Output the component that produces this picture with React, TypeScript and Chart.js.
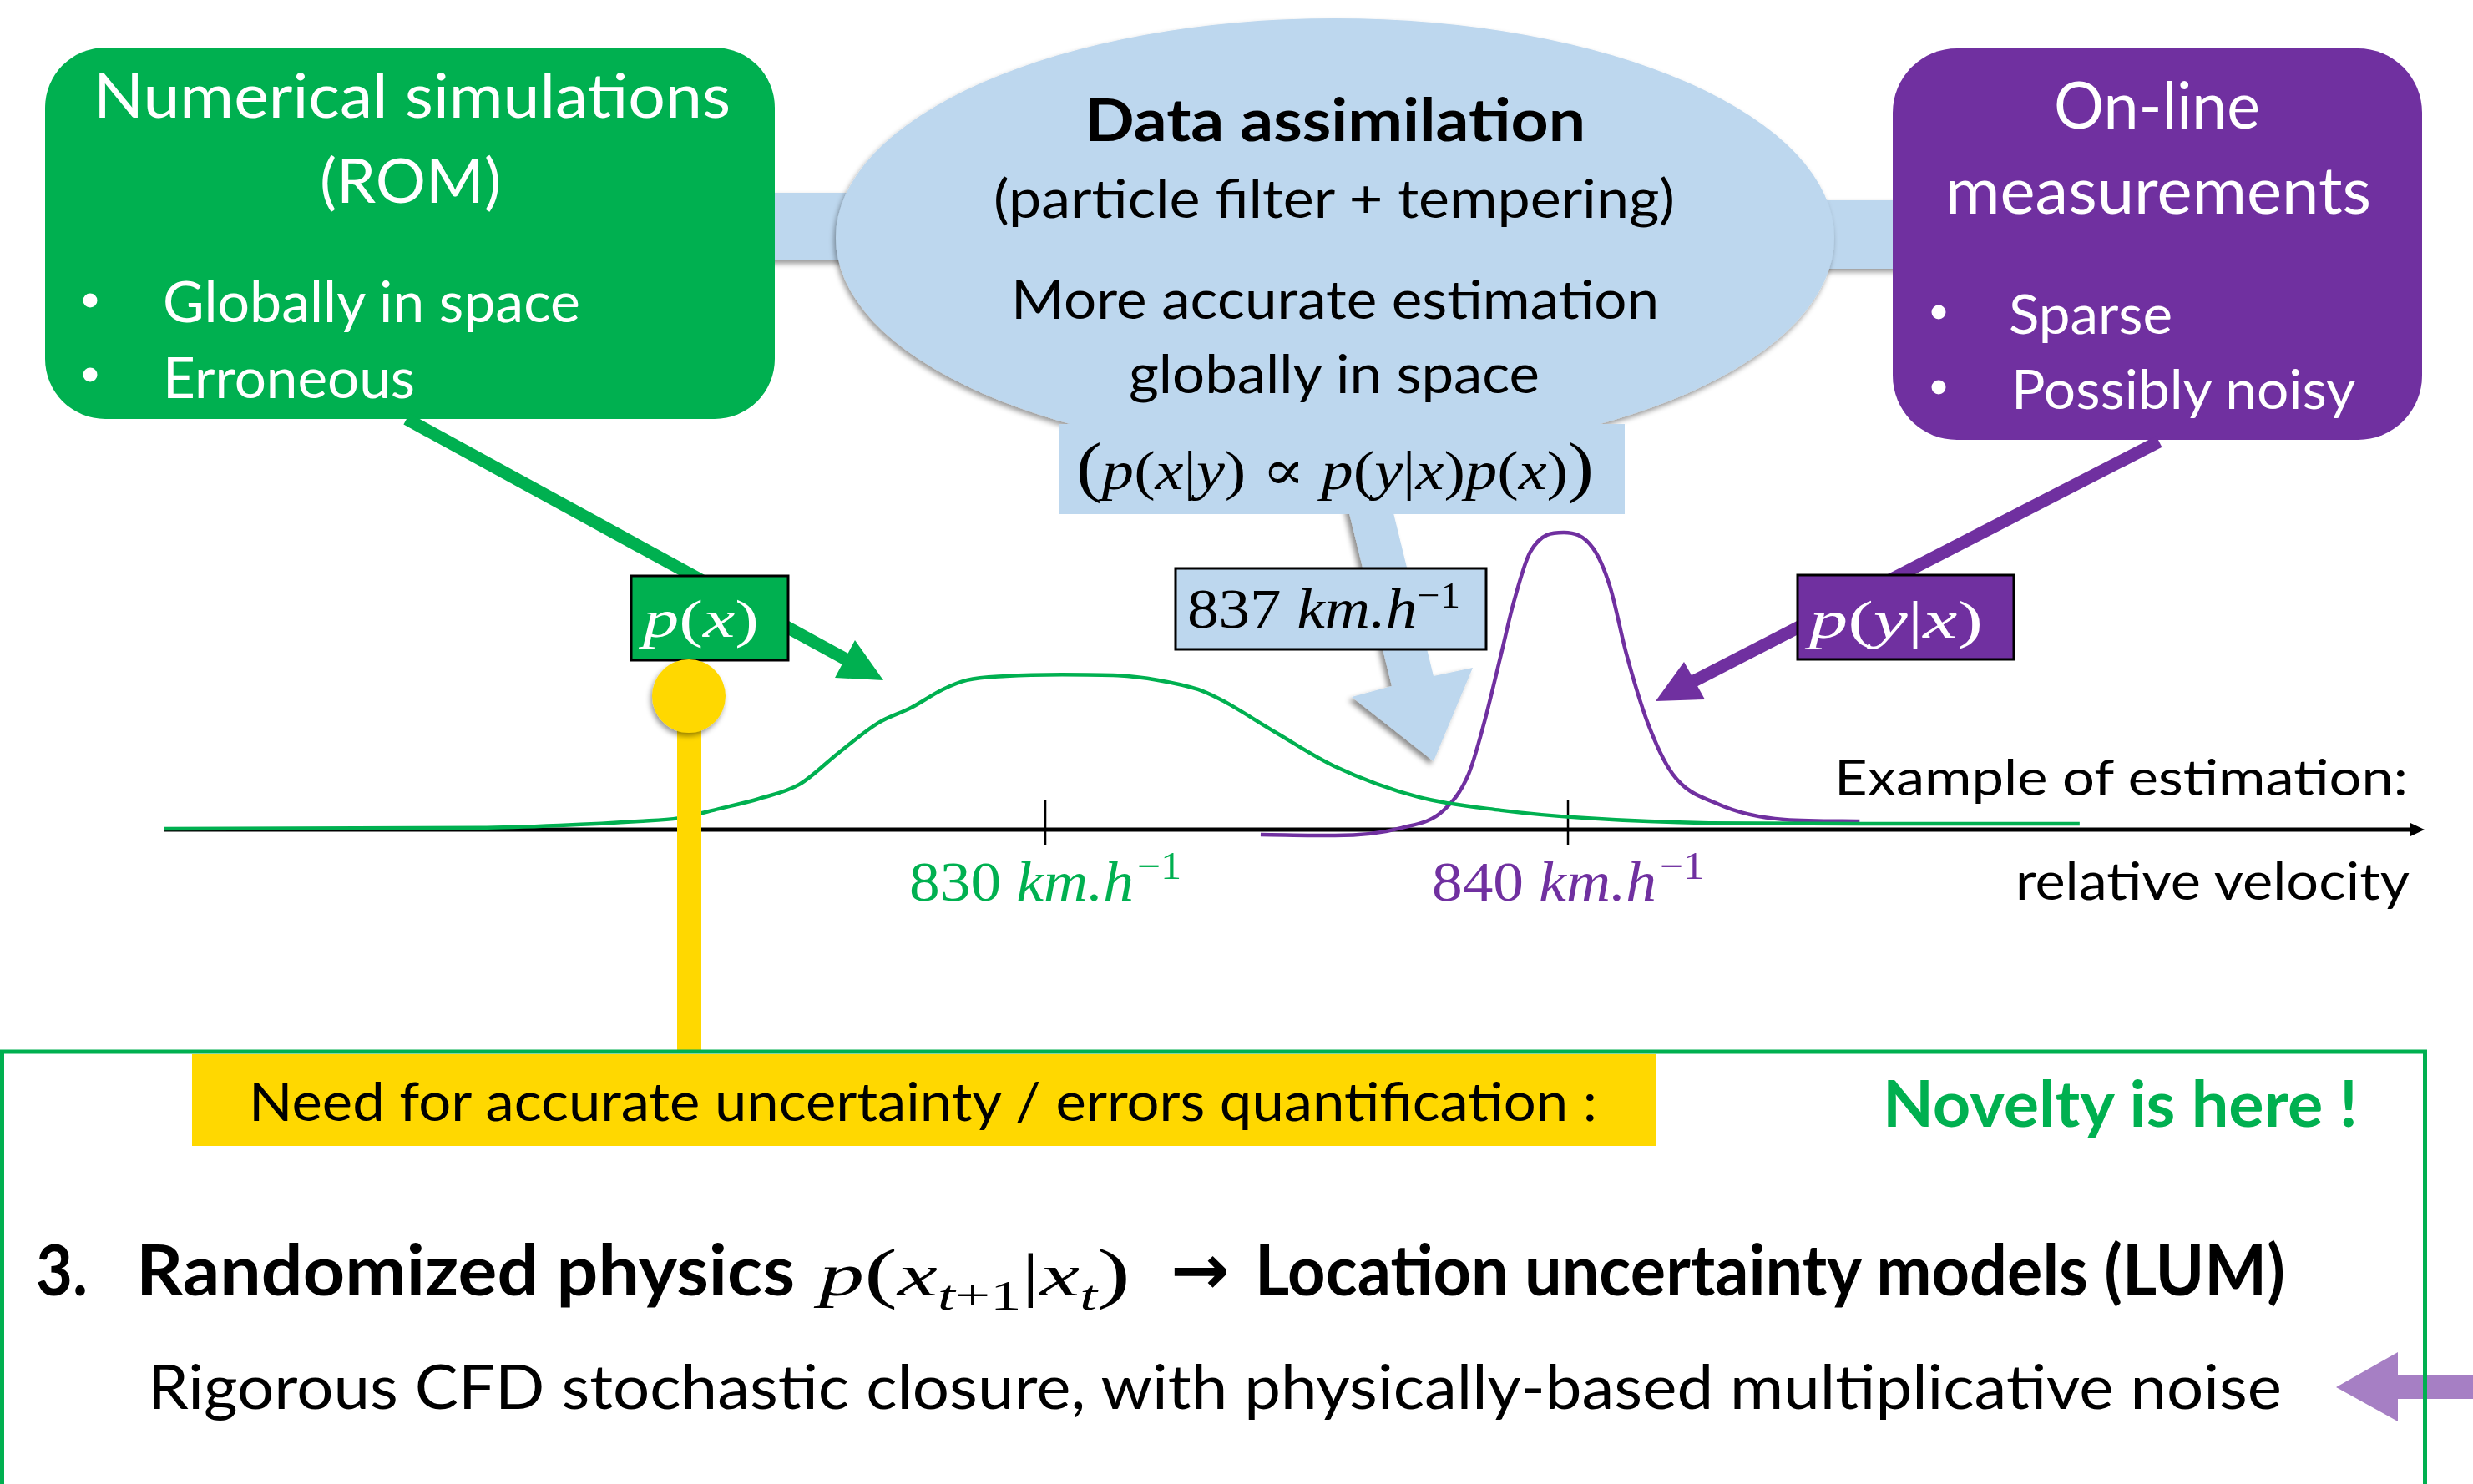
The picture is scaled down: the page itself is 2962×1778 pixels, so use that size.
import React, { useEffect, useRef } from "react";
import { Chart, registerables } from "chart.js";
Chart.register(...registerables);

const W = 2962;
const H = 1778;
const SANS = "Lato, 'Open Sans', sans-serif";
const SERIF = "'Liberation Serif', 'DejaVu Serif', serif";

// ---- chart data (velocity in km/h, density in arbitrary units) ----
const greenVelocity = [813.13, 819.17, 820.7, 822.22, 822.99, 823.75, 824.52, 825.29, 826.04, 826.81, 827.43, 828.04, 828.5, 829.25, 830.32, 831.39, 832.16, 832.92, 833.32, 833.53, 834.42, 835.54, 837.14, 838.72, 840.32, 842.7, 845.58, 849.79];
const greenDensity = [0.3, 0.6, 1.4, 2.8, 3.9, 7.0, 10.4, 15.2, 25.8, 36.0, 41.0, 47.2, 50.3, 51.7, 52.2, 51.9, 50.3, 47.2, 44.1, 42.1, 32.6, 21.3, 11.0, 6.5, 3.9, 2.2, 2.0, 2.0];

const purpleVelocity = [834.12, 835.54, 836.82, 837.62, 838.1, 838.4, 838.72, 838.96, 839.28, 839.92, 840.48, 840.8, 841.12, 841.52, 842.0, 842.86, 844.14, 845.58];
const purpleDensity = [-1.7, -2.0, 0.6, 6.5, 18.8, 36.2, 59.0, 76.4, 93.5, 100, 94.7, 82.0, 59.0, 36.2, 18.8, 8.7, 3.4, 2.8];

const tickValues = [830, 840];
const tickUnit = "km.h";
const tickExponent = "\u22121";
const tickColors = ["#00B050", "#7030A0"];

const GREEN = "#00B050";
const PURPLE = "#7030A0";
const LIGHTBLUE = "#BDD7EE";
const YELLOW = "#FFD800";

const axisPlugin = {
  id: "velocityAxis",
  beforeDatasetsDraw(chart: any) {
    const { ctx, chartArea, scales } = chart;
    const xs = scales.x;
    const ys = scales.y;
    const y0 = ys.getPixelForValue(0);
    ctx.save();
    ctx.strokeStyle = "#000";
    ctx.lineWidth = 5;
    ctx.beginPath();
    ctx.moveTo(chartArea.left, y0);
    ctx.lineTo(chartArea.right - 12, y0);
    ctx.stroke();
    ctx.fillStyle = "#000";
    ctx.beginPath();
    ctx.moveTo(chartArea.right, y0);
    ctx.lineTo(chartArea.right - 17, y0 - 8);
    ctx.lineTo(chartArea.right - 17, y0 + 8);
    ctx.closePath();
    ctx.fill();
    ctx.lineWidth = 2.5;
    tickValues.forEach((v) => {
      const px = xs.getPixelForValue(v);
      ctx.beginPath();
      ctx.moveTo(px, y0 - 36);
      ctx.lineTo(px, y0 + 18);
      ctx.stroke();
    });
    tickValues.forEach((v, i) => {
      const px = xs.getPixelForValue(v);
      const num = String(v) + " ";
      ctx.font = `68px ${SERIF}`;
      const w1 = ctx.measureText(num).width;
      ctx.font = `italic 68px ${SERIF}`;
      const w2 = ctx.measureText(tickUnit).width;
      ctx.font = `46px ${SERIF}`;
      const w3 = ctx.measureText(tickExponent).width;
      const total = w1 + w2 + 4 + w3;
      const target = 326;
      ctx.save();
      ctx.translate(px - target / 2, y0 + 85);
      ctx.scale(target / total, 1);
      ctx.fillStyle = tickColors[i];
      ctx.textBaseline = "alphabetic";
      ctx.font = `68px ${SERIF}`;
      ctx.fillText(num, 0, 0);
      ctx.font = `italic 68px ${SERIF}`;
      ctx.fillText(tickUnit, w1, 0);
      ctx.font = `46px ${SERIF}`;
      ctx.fillText(tickExponent, w1 + w2 + 4, -26);
      ctx.restore();
    });
    ctx.restore();
  },
};

type TP = {
  x: number;
  y: number;
  w?: number;
  size: number;
  bold?: boolean;
  italic?: boolean;
  fill?: string;
  family?: string;
  children: React.ReactNode;
};

function T({ x, y, w, size, bold, italic, fill = "#000", family = SANS, children }: TP) {
  return (
    <text
      x={x}
      y={y}
      fontSize={size}
      fontFamily={family}
      fontWeight={bold ? 700 : 400}
      fontStyle={italic ? "italic" : "normal"}
      fill={fill}
      textLength={w}
      lengthAdjust={w ? "spacingAndGlyphs" : undefined}
    >
      {children}
    </text>
  );
}

const I = ({ children }: { children: React.ReactNode }) => <tspan fontStyle="italic">{children}</tspan>;

export default function App() {
  const canvasRef = useRef<HTMLCanvasElement | null>(null);

  useEffect(() => {
    if (!canvasRef.current) return;
    const chart = new Chart(canvasRef.current, {
      type: "line",
      data: {
        datasets: [
          {
            data: greenVelocity.map((v, i) => ({ x: v, y: greenDensity[i] })),
            borderColor: GREEN,
            borderWidth: 4.5,
            pointRadius: 0,
            cubicInterpolationMode: "monotone",
            fill: false,
          },
          {
            data: purpleVelocity.map((v, i) => ({ x: v, y: purpleDensity[i] })),
            borderColor: PURPLE,
            borderWidth: 4.5,
            pointRadius: 0,
            cubicInterpolationMode: "monotone",
            fill: false,
          },
        ],
      },
      options: {
        animation: false,
        responsive: false,
        devicePixelRatio: 1,
        events: [],
        layout: { padding: { left: 196, right: 58, top: 602.4, bottom: 748.4 } },
        scales: {
          x: { type: "linear", min: 813.13, max: 856.39, display: false },
          y: { type: "linear", min: -10, max: 110, display: false },
        },
        plugins: { legend: { display: false }, tooltip: { enabled: false } },
      },
      plugins: [axisPlugin],
    } as any);
    return () => chart.destroy();
  }, []);

  return (
    <div style={{ position: "absolute", left: 0, top: 0, width: W, height: H, background: "#fff", overflow: "hidden" }}>
      <canvas ref={canvasRef} width={W} height={H} style={{ position: "absolute", left: 0, top: 0, display: "block" }} />
      <svg width={W} height={H} style={{ position: "absolute", left: 0, top: 0 }}>
        <defs>
          <filter id="sh" x="-10%" y="-10%" width="120%" height="130%">
            <feDropShadow dx="-2" dy="4" stdDeviation="3" floodColor="#000" floodOpacity="0.4" />
          </filter>
          <filter id="sh2" x="-20%" y="-20%" width="140%" height="140%">
            <feDropShadow dx="-4" dy="4" stdDeviation="3" floodColor="#000" floodOpacity="0.45" />
          </filter>
        </defs>

        {/* connector bars */}
        <rect x={900} y={231} width={220} height={81} fill={LIGHTBLUE} filter="url(#sh)" />
        <rect x={2080} y={240} width={220} height={82} fill={LIGHTBLUE} filter="url(#sh)" />

        {/* ellipse */}
        <ellipse cx={1599} cy={285} rx={598} ry={263} fill={LIGHTBLUE} filter="url(#sh)" />

        {/* blue block arrow */}
        <polygon
          points="1605,570 1658,570 1717,810 1764,800 1717,912 1619,835 1667,822"
          fill={LIGHTBLUE}
          filter="url(#sh2)"
        />

        {/* formula box */}
        <rect x={1268} y={508} width={678} height={108} fill={LIGHTBLUE} />
        <T x={1289} y={586} w={620} size={66} family={SERIF}>
          <tspan fontSize={80}>(</tspan>
          <I>p</I>(<I>x</I>|<I>y</I>) {"\u221D"} <I>p</I>(<I>y</I>|<I>x</I>)<I>p</I>(<I>x</I>)<tspan fontSize={80}>)</tspan>
        </T>

        {/* 837 box */}
        <rect x={1408} y={681} width={372} height={97} fill={LIGHTBLUE} stroke="#000" strokeWidth={3} />
        <T x={1422} y={752} w={327} size={68} family={SERIF}>
          837 <I>km.h</I>
          <tspan fontSize={44} dy={-24}>{"\u22121"}</tspan>
        </T>

        {/* ellipse texts */}
        <T x={1299} y={169} w={600} size={71} bold>Data assimilation</T>
        <T x={1190} y={261} w={816} size={63}>(particle filter + tempering)</T>
        <T x={1211} y={382} w={776} size={63}>More accurate estimation</T>
        <T x={1352} y={471} w={492} size={63}>globally in space</T>

        {/* green box */}
        <rect x={54} y={57} width={874} height={445} rx={72} ry={72} fill={GREEN} />
        <T x={112} y={141} w={763} size={74} fill="#fff">Numerical simulations</T>
        <T x={383} y={243} w={217} size={74} fill="#fff">(ROM)</T>
        <circle cx={108} cy={360} r={8.5} fill="#fff" />
        <circle cx={108} cy={449} r={8.5} fill="#fff" />
        <T x={195} y={386} w={500} size={67} fill="#fff">Globally in space</T>
        <T x={195} y={477} w={302} size={67} fill="#fff">Erroneous</T>

        {/* purple box */}
        <rect x={2267} y={58} width={634} height={469} rx={77} ry={77} fill={PURPLE} />
        <T x={2460} y={154} w={247} size={78} fill="#fff">On-line</T>
        <T x={2330} y={256} w={510} size={78} fill="#fff">measurements</T>
        <circle cx={2322} cy={374} r={8.5} fill="#fff" />
        <circle cx={2322} cy={464} r={8.5} fill="#fff" />
        <T x={2406} y={400} w={196} size={66} fill="#fff">Sparse</T>
        <T x={2409} y={490} w={412} size={66} fill="#fff">Possibly noisy</T>

        {/* green arrow */}
        <line x1={487} y1={502} x2={1015} y2={791} stroke={GREEN} strokeWidth={15} />
        <polygon points="1058,815 1024,767 1000,812" fill={GREEN} />

        {/* purple arrow */}
        <line x1={2586} y1={529} x2={2027} y2={817} stroke={PURPLE} strokeWidth={15} />
        <polygon points="1983,840 2042,838 2017,793" fill={PURPLE} />

        {/* p(x) and p(y|x) boxes */}
        <rect x={756} y={690} width={188} height={101} fill={GREEN} stroke="#000" strokeWidth={3} />
        <T x={770} y={763} w={139} size={64} family={SERIF} fill="#fff">
          <I>p</I>(<I>x</I>)
        </T>
        <rect x={2153} y={689} width={259} height={101} fill={PURPLE} stroke="#000" strokeWidth={3} />
        <T x={2167} y={764} w={208} size={64} family={SERIF} fill="#fff">
          <I>p</I>(<I>y</I>|<I>x</I>)
        </T>

        {/* axis texts */}
        <T x={2197} y={953} w={687} size={60}>Example of estimation:</T>
        <T x={2414} y={1078} w={472} size={62}>relative velocity</T>

        {/* yellow pin */}
        <rect x={811} y={834} width={29} height={424} fill={YELLOW} />
        <circle cx={825} cy={834} r={44} fill={YELLOW} filter="url(#sh)" />

        {/* bottom section */}
        <polygon
          points="2798,1662 2872,1620 2872,1648 2970,1648 2970,1676 2872,1676 2872,1703"
          fill="rgba(112,48,160,0.62)"
        />
        <rect x={2.5} y={1260} width={2902} height={700} fill="none" stroke={GREEN} strokeWidth={5} />
        <rect x={230} y={1263} width={1753} height={110} fill={YELLOW} />
        <T x={298} y={1343} w={1615} size={64}>Need for accurate uncertainty / errors quantification :</T>
        <T x={2255} y={1350} w={569} size={76} bold fill={GREEN}>Novelty is here !</T>

        <T x={43} y={1552} w={62} size={84} bold>3.</T>
        <T x={163} y={1552} w={789} size={84} bold>Randomized physics</T>
        <T x={981} y={1552} w={373} size={72} family={SERIF}>
          <I>p</I>
          <tspan fontSize={80}>(</tspan>
          <I>x</I>
          <tspan fontSize={50} dy={17}>
            <I>t</I>+1
          </tspan>
          <tspan dy={-17}>|</tspan>
          <I>x</I>
          <tspan fontSize={50} dy={17}>
            <I>t</I>
          </tspan>
          <tspan fontSize={80} dy={-17}>)</tspan>
        </T>
        <T x={1402} y={1550} w={71} size={84} bold family="'DejaVu Sans', sans-serif">{"\u2192"}</T>
        <T x={1503} y={1552} w={1234} size={84} bold>Location uncertainty models (LUM)</T>
        <T x={177} y={1688} w={2556} size={74}>Rigorous CFD stochastic closure, with physically-based multiplicative noise</T>
      </svg>
    </div>
  );
}
